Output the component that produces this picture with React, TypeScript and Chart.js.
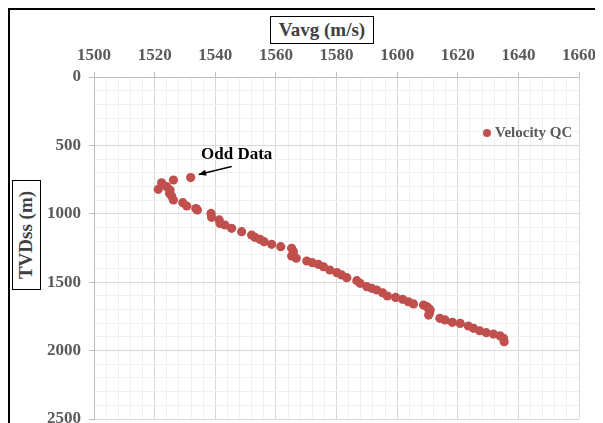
import React, { useEffect, useRef } from 'react';
import { Chart, registerables } from 'chart.js';

Chart.register(...registerables);

// Average velocity (m/s) against sub-sea true vertical depth (m)
const velocityMs = [
  1531.9, 1526.2, 1522.3, 1524.0, 1521.2, 1525.1, 1524.9, 1525.6, 1526.2, 1529.3,
  1530.6, 1533.6, 1534.1, 1538.6, 1538.8, 1541.3, 1541.6, 1543.2, 1545.4, 1548.7,
  1552.0, 1553.1, 1554.8, 1556.1, 1558.6, 1561.6, 1565.2, 1565.8, 1565.2, 1566.7,
  1570.2, 1572.0, 1574.0, 1575.7, 1577.8, 1580.1, 1581.7, 1583.4, 1586.7, 1587.8,
  1590.0, 1591.6, 1593.3, 1595.2, 1596.8, 1599.5, 1601.8, 1603.7, 1605.4, 1608.7,
  1609.8, 1610.4, 1610.9, 1610.7, 1610.4, 1614.1, 1615.8, 1618.2, 1620.8, 1623.5,
  1625.2, 1627.2, 1629.4, 1631.8, 1634.0, 1635.1, 1635.3,
];
const depthTVDss = [
  735, 753, 773, 802, 821, 826, 850, 870, 899, 919,
  943, 962, 972, 997, 1026, 1045, 1070, 1082, 1106, 1131,
  1155, 1172, 1187, 1204, 1223, 1240, 1252, 1277, 1308, 1325,
  1345, 1357, 1369, 1387, 1411, 1430, 1447, 1467, 1489, 1508,
  1533, 1545, 1557, 1577, 1601, 1611, 1625, 1643, 1659, 1667,
  1679, 1691, 1703, 1723, 1740, 1764, 1776, 1793, 1801, 1820,
  1837, 1855, 1869, 1879, 1893, 1910, 1935,
];

// Axis ranges and tick spacing
const xRange = [1500, 1660];
const xMajorStep = 20;
const xMinorStep = 4;
const yRange = [0, 2500];
const yMajorStep = 500;
const yMinorStep = 100;

const seriesName = 'Velocity QC';
const xTitle = 'Vavg (m/s)';
const yTitle = 'TVDss (m)';
const noteText = 'Odd Data';
const noteIndex = 0; // the shallow outlier the note points at

const serif = "'Liberation Serif', 'Times New Roman', serif";
const markerColor = '#C0504D';
const labelColor = '#595959';

const overlayPlugin = {
  id: 'velocityOverlay',
  afterDatasetsDraw(chart: any) {
    const { ctx, chartArea, scales } = chart;
    const x = scales.x;
    const y = scales.y;
    ctx.save();

    // legend entry in the upper right of the plot
    const lx = chartArea.right - 92;
    const ly = chartArea.top + 56;
    ctx.fillStyle = markerColor;
    ctx.beginPath();
    ctx.arc(lx, ly, 4, 0, Math.PI * 2);
    ctx.fill();
    ctx.fillStyle = labelColor;
    ctx.font = `bold 15px ${serif}`;
    ctx.textAlign = 'left';
    ctx.textBaseline = 'middle';
    ctx.fillText(seriesName, lx + 8, ly);

    // note with an arrow pointing at the outlier
    const px = x.getPixelForValue(velocityMs[noteIndex]);
    const py = y.getPixelForValue(depthTVDss[noteIndex]);
    const tipX = px + 8;
    const tipY = py - 3;
    const tailX = px + 41;
    const tailY = py - 11;
    ctx.strokeStyle = '#000';
    ctx.fillStyle = '#000';
    ctx.lineWidth = 1.5;
    ctx.beginPath();
    ctx.moveTo(tailX, tailY);
    ctx.lineTo(tipX, tipY);
    ctx.stroke();
    const ang = Math.atan2(tipY - tailY, tipX - tailX);
    const head = 8;
    ctx.beginPath();
    ctx.moveTo(tipX, tipY);
    ctx.lineTo(tipX - head * Math.cos(ang - 0.4), tipY - head * Math.sin(ang - 0.4));
    ctx.lineTo(tipX - head * Math.cos(ang + 0.4), tipY - head * Math.sin(ang + 0.4));
    ctx.closePath();
    ctx.fill();
    ctx.font = `bold 17px ${serif}`;
    ctx.textAlign = 'center';
    ctx.textBaseline = 'middle';
    ctx.fillText(noteText, px + 46, py - 23);

    ctx.restore();
  },
};

export default function App() {
  const canvasRef = useRef<HTMLCanvasElement | null>(null);

  useEffect(() => {
    document.documentElement.style.overflow = 'hidden';
    document.body.style.overflow = 'hidden';
    const canvas = canvasRef.current;
    if (!canvas) return;

    const points = velocityMs.map((v, i) => ({ x: v, y: depthTVDss[i] }));

    const chart = new Chart(canvas, {
      type: 'scatter',
      data: {
        datasets: [
          {
            label: seriesName,
            data: points,
            backgroundColor: markerColor,
            borderColor: markerColor,
            borderWidth: 0,
            pointRadius: 4.6,
            pointHoverRadius: 4.6,
          },
        ],
      },
      options: {
        animation: false,
        responsive: false,
        maintainAspectRatio: false,
        events: [],
        layout: { padding: { left: 0, right: 24, top: 0, bottom: 29 } },
        plugins: {
          legend: { display: false },
          tooltip: { enabled: false },
          title: { display: false },
        },
        scales: {
          x: {
            type: 'linear',
            position: 'top',
            min: xRange[0],
            max: xRange[1],
            afterFit(scale: any) {
              scale.height = 69;
            },
            border: { display: true, color: '#BFBFBF', width: 1 },
            grid: {
              drawTicks: true,
              tickLength: 5,
              color: (c: any) =>
                c.tick && c.tick.value % xMajorStep === 0 ? '#D9D9D9' : '#F0F0F0',
              tickColor: (c: any) =>
                c.tick && c.tick.value % xMajorStep === 0 ? '#BFBFBF' : 'rgba(0,0,0,0)',
            },
            ticks: {
              stepSize: xMinorStep,
              autoSkip: false,
              maxRotation: 0,
              padding: 6,
              color: labelColor,
              font: { family: serif, size: 17, weight: 'bold' },
              callback: (v: any) => (Number(v) % xMajorStep === 0 ? String(v) : ''),
            },
          },
          y: {
            type: 'linear',
            position: 'left',
            reverse: true,
            min: yRange[0],
            max: yRange[1],
            afterFit(scale: any) {
              scale.width = 86;
            },
            border: { display: true, color: '#BFBFBF', width: 1 },
            grid: {
              drawTicks: true,
              tickLength: 5,
              color: (c: any) =>
                c.tick && c.tick.value % yMajorStep === 0 ? '#D9D9D9' : '#F0F0F0',
              tickColor: (c: any) =>
                c.tick && c.tick.value % yMajorStep === 0 ? '#BFBFBF' : 'rgba(0,0,0,0)',
            },
            ticks: {
              stepSize: yMinorStep,
              autoSkip: false,
              padding: 8,
              color: labelColor,
              font: { family: serif, size: 17, weight: 'bold' },
              callback: (v: any) => (Number(v) % yMajorStep === 0 ? String(v) : ''),
            },
          },
        },
      },
      plugins: [overlayPlugin],
    });

    return () => chart.destroy();
  }, []);

  const boxStyle: React.CSSProperties = {
    position: 'absolute',
    border: '1.5px solid #000',
    boxSizing: 'border-box',
    display: 'flex',
    alignItems: 'center',
    justifyContent: 'center',
    fontFamily: serif,
    fontWeight: 'bold',
    fontSize: 19,
    color: '#404040',
    background: '#fff',
    whiteSpace: 'nowrap',
  };

  return (
    <div
      style={{
        position: 'relative',
        width: 595,
        height: 415,
        overflow: 'hidden',
        background: '#fff',
      }}
    >
      <canvas
        ref={canvasRef}
        width={595}
        height={440}
        style={{ position: 'absolute', left: 0, top: 0, width: 595, height: 440 }}
      />
      <div
        style={{
          position: 'absolute',
          left: 0,
          top: 0,
          width: 620,
          height: 440,
          borderLeft: '2px solid #000',
          borderTop: '2px solid #000',
          boxSizing: 'border-box',
          pointerEvents: 'none',
        }}
      />
      <div style={{ ...boxStyle, left: 262, top: 8, width: 104, height: 28 }}>{xTitle}</div>
      <div style={{ ...boxStyle, left: 4, top: 172, width: 29, height: 110 }}>
        <span style={{ display: 'inline-block', transform: 'rotate(-90deg)' }}>{yTitle}</span>
      </div>
    </div>
  );
}
